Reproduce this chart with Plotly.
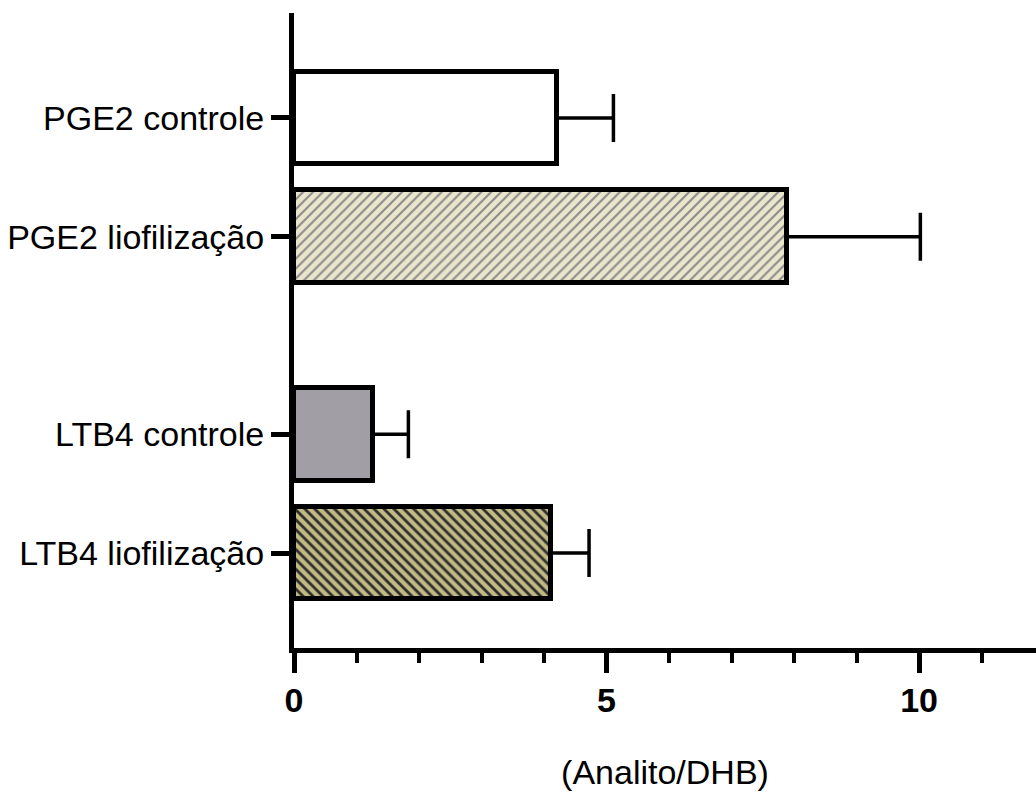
import plotly.graph_objects as go

# Ratio analyte / DHB for each sample
categories = ["PGE2 controle", "PGE2 liofilização", "LTB4 controle", "LTB4 liofilização"]
means = [4.20, 7.88, 1.26, 4.11]
errors = [0.91, 2.14, 0.57, 0.61]

# Vertical slots: two groups of two bars, with a gap between groups
positions = [0, 1, 2.66, 3.66]

fill_colors = ["#FFFFFF", "#EAE6CC", "#A19FA5", "#C2BA82"]
pattern_shapes = ["", "/", "", "\\"]
pattern_fg = ["#000000", "#8C8C8C", "#000000", "#2E2E2E"]
pattern_solidity = [0.3, 0.3, 0.3, 0.4]

fig = go.Figure()
for i in range(len(categories)):
    fig.add_trace(go.Bar(
        x=[means[i]],
        y=[positions[i]],
        orientation="h",
        width=0.78,
        marker=dict(
            color=fill_colors[i],
            line=dict(color="black", width=5),
            pattern=dict(
                shape=pattern_shapes[i],
                fgcolor=pattern_fg[i],
                bgcolor=fill_colors[i],
                size=7,
                solidity=pattern_solidity[i],
                fillmode="replace",
            ),
        ),
        error_x=dict(
            type="data",
            symmetric=False,
            array=[errors[i]],
            arrayminus=[0],
            color="black",
            thickness=3.5,
            width=24,
        ),
        showlegend=False,
        hoverinfo="skip",
    ))

fig.update_layout(
    width=1036,
    height=801,
    margin=dict(l=294, r=0, t=13, b=152.5),
    paper_bgcolor="white",
    plot_bgcolor="white",
    font=dict(family="Liberation Sans, Arial, sans-serif", color="black"),
    bargap=0,
)

fig.update_xaxes(
    range=[0, 11.87],
    tickmode="linear",
    tick0=0,
    dtick=5,
    showgrid=False,
    zeroline=False,
    showline=True,
    linecolor="black",
    linewidth=5,
    ticks="outside",
    ticklen=20,
    tickwidth=5,
    tickcolor="black",
    minor=dict(dtick=1, tick0=0, ticks="outside", ticklen=10, tickwidth=4, tickcolor="black", showgrid=False),
    tickfont=dict(size=34, weight="bold", color="black"),
    ticklabelstandoff=-2,
    title=dict(text="(Analito/DHB)", font=dict(size=34, color="black"), standoff=44),
)

fig.update_yaxes(
    range=[4.458, -0.882],
    tickmode="array",
    tickvals=positions,
    ticktext=categories,
    showgrid=False,
    zeroline=False,
    showline=True,
    linecolor="black",
    linewidth=5,
    ticks="outside",
    ticklen=18,
    tickwidth=5,
    tickcolor="black",
    tickfont=dict(size=34, color="black"),
    ticklabelstandoff=0,
)

fig.write_html("out.html")
